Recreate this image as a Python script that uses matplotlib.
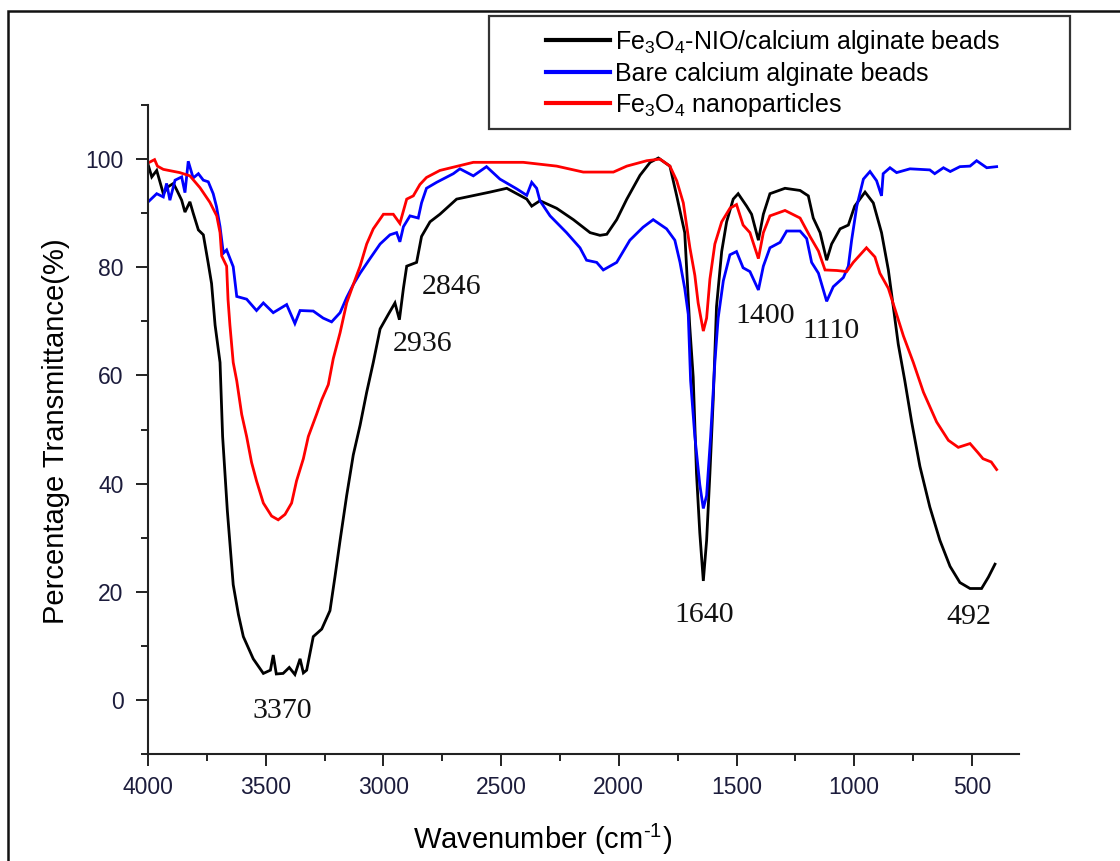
import matplotlib
matplotlib.use("Agg")
import matplotlib.pyplot as plt
from matplotlib.patches import Rectangle
from matplotlib.ticker import MultipleLocator

plt.rcParams["font.family"] = ["Liberation Sans", "DejaVu Sans"]
plt.rcParams["mathtext.fontset"] = "custom"
plt.rcParams["mathtext.rm"] = "Liberation Sans"
plt.rcParams["mathtext.default"] = "regular"

# FTIR spectra: wavenumber (cm^-1) and transmittance (%)
nio_wn = [3999, 3984, 3963, 3935, 3914, 3892, 3878, 3857, 3843, 3822, 3808, 3786,
          3765, 3744, 3730, 3715, 3694, 3683, 3663, 3638, 3616, 3595, 3553, 3510,
          3480, 3468, 3455, 3426, 3400, 3376, 3354, 3340, 3326, 3298, 3262, 3227,
          3206, 3184, 3156, 3128, 3099, 3071, 3043, 3014, 2979, 2951, 2932, 2915,
          2901, 2859, 2838, 2802, 2760, 2689, 2547, 2476, 2391, 2370, 2335, 2264,
          2193, 2122, 2080, 2051, 2009, 1966, 1910, 1867, 1832, 1783, 1754, 1720,
          1699, 1684, 1670, 1656, 1641, 1627, 1613, 1599, 1585, 1563, 1542, 1514,
          1493, 1457, 1436, 1407, 1386, 1358, 1294, 1230, 1195, 1174, 1145, 1117,
          1096, 1060, 1025, 998, 954, 919, 884, 855, 834, 813, 785, 756, 721, 679,
          636, 593, 551, 508, 459, 430, 402]
nio_t = [98.9, 96.7, 97.9, 93.6, 94.9, 95.5, 94.3, 92.4, 90.2, 92.1, 90.0, 86.9,
         86.0, 80.7, 77.0, 69.3, 62.4, 48.7, 35.0, 21.3, 15.8, 11.7, 7.6, 4.9,
         5.5, 8.3, 4.8, 4.9, 6.0, 4.7, 7.6, 5.0, 5.5, 11.7, 13.1, 16.5,
         22.7, 29.5, 37.8, 45.3, 50.8, 56.9, 62.4, 68.6, 71.3, 73.4, 70.3, 76.1,
         80.2, 80.9, 85.7, 88.4, 89.8, 92.6, 93.9, 94.6, 92.6, 91.3, 92.3, 90.9,
         88.8, 86.4, 85.9, 86.1, 88.8, 92.6, 97.0, 99.4, 100.2, 98.7, 93.2, 86.4,
         69.3, 59.7, 41.9, 30.9, 22.0, 29.5, 41.9, 55.5, 72.7, 82.9, 88.4, 92.6,
         93.6, 91.3, 89.8, 85.0, 89.8, 93.6, 94.6, 94.2, 93.2, 89.1, 86.4, 81.3,
         84.3, 87.1, 87.8, 91.3, 93.9, 91.9, 86.4, 79.5, 72.7, 65.8, 59.0, 51.4,
         43.2, 35.7, 29.5, 24.7, 21.7, 20.6, 20.6, 22.7, 25.1]

bare_wn = [3999, 3963, 3935, 3921, 3907, 3885, 3857, 3843, 3829, 3808, 3786, 3765,
           3744, 3723, 3709, 3694, 3680, 3666, 3638, 3623, 3581, 3539, 3510, 3468,
           3411, 3376, 3354, 3298, 3256, 3220, 3184, 3156, 3128, 3099, 3057, 3014,
           2972, 2944, 2930, 2915, 2887, 2852, 2838, 2817, 2774, 2703, 2675, 2618,
           2562, 2505, 2434, 2391, 2370, 2349, 2335, 2292, 2222, 2165, 2137, 2094,
           2066, 2009, 1953, 1897, 1854, 1797, 1762, 1740, 1720, 1705, 1695, 1677,
           1656, 1641, 1627, 1610, 1592, 1578, 1556, 1528, 1500, 1472, 1443, 1407,
           1386, 1358, 1315, 1287, 1230, 1202, 1181, 1152, 1117, 1089, 1046, 1025,
           1011, 989, 961, 933, 905, 884, 877, 848, 820, 763, 679, 658, 621, 592,
           551, 508, 480, 437, 395]
bare_t = [92.1, 93.6, 93.0, 95.5, 92.4, 96.1, 96.7, 93.8, 99.6, 96.5, 97.3, 96.1,
          95.8, 93.6, 91.2, 87.5, 82.6, 83.2, 80.1, 74.6, 74.1, 72.0, 73.4, 71.6,
          73.1, 69.6, 72.0, 71.9, 70.6, 69.9, 71.6, 74.4, 76.8, 78.9, 81.6, 84.3,
          86.0, 86.4, 84.7, 87.5, 89.5, 89.1, 91.9, 94.6, 95.7, 97.3, 98.2, 96.9,
          98.6, 96.3, 94.5, 93.3, 95.7, 94.6, 92.3, 89.5, 86.4, 83.6, 81.3, 80.9,
          79.5, 80.9, 85.0, 87.4, 88.8, 87.1, 85.0, 80.9, 76.1, 71.3, 59.0, 48.7,
          39.8, 35.4, 37.8, 48.7, 62.4, 70.6, 77.5, 82.3, 82.9, 79.9, 79.2, 75.8,
          80.2, 83.6, 84.6, 86.7, 86.7, 85.3, 80.9, 78.9, 73.7, 76.4, 78.1, 80.2,
          85.0, 91.3, 96.3, 97.7, 96.0, 93.2, 97.3, 98.4, 97.5, 98.2, 98.0, 97.3,
          98.4, 97.7, 98.6, 98.7, 99.7, 98.4, 98.6]

fe3o4_wn = [3999, 3972, 3960, 3935, 3865, 3822, 3779, 3737, 3708, 3694, 3687, 3666,
            3660, 3652, 3638, 3623, 3602, 3581, 3560, 3539, 3510, 3475, 3447, 3418,
            3390, 3369, 3340, 3319, 3284, 3262, 3234, 3213, 3184, 3156, 3128, 3099,
            3071, 3043, 3000, 2958, 2930, 2901, 2873, 2845, 2817, 2760, 2618, 2406,
            2264, 2151, 2023, 1966, 1881, 1825, 1783, 1754, 1726, 1698, 1677, 1663,
            1641, 1627, 1613, 1592, 1563, 1528, 1500, 1472, 1443, 1407, 1386, 1358,
            1294, 1230, 1188, 1152, 1124, 1074, 1032, 1004, 948, 912, 891, 855, 820,
            791, 749, 706, 650, 600, 558, 508, 474, 453, 418, 395]
fe3o4_t = [99.3, 99.9, 98.7, 98.1, 97.5, 96.9, 94.7, 92.0, 89.5, 86.4, 82.1, 80.2,
           74.0, 69.3, 62.4, 59.0, 52.8, 48.7, 43.9, 40.5, 36.4, 34.0, 33.3, 34.3,
           36.4, 40.5, 44.6, 48.7, 52.8, 55.5, 58.3, 63.1, 67.9, 73.4, 76.8, 80.2,
           84.3, 87.1, 89.8, 89.8, 88.1, 92.6, 93.2, 95.3, 96.6, 97.9, 99.4, 99.4,
           98.7, 97.6, 97.6, 98.7, 99.7, 100.0, 98.7, 96.0, 91.9, 83.6, 78.5, 73.4,
           68.2, 70.6, 77.8, 84.3, 88.4, 90.9, 91.6, 87.8, 86.4, 81.6, 86.4, 89.5,
           90.5, 89.1, 85.7, 83.0, 79.5, 79.4, 79.2, 80.9, 83.6, 81.9, 78.9, 76.1, 71.3,
           67.3, 62.4, 56.9, 51.4, 48.0, 46.7, 47.4, 45.7, 44.6, 44.0, 42.6]

series_labels = ["Fe$_3$O$_4$-NIO/calcium alginate beads",
                 "Bare calcium alginate beads",
                 "Fe$_3$O$_4$ nanoparticles"]
series_colors = ["#000000", "#0000ff", "#ff0000"]

# annotated band positions (cm^-1) and where their labels sit (x, y in data units)
peaks = [3370, 2936, 2846, 1640, 1400, 1110, 492]
peak_label_xy = [(3431, -2.0), (2832, 65.9), (2709, 76.3), (1638, 15.7),
                 (1379, 70.9), (1099, 68.3), (512, 15.4)]

fig = plt.figure(figsize=(11.2, 8.61), dpi=100)
ax = fig.add_axes([148 / 1120, 1 - 754 / 861, 871 / 1120, 649 / 861])

handles = []
for wn, t, lab, col in zip([nio_wn, bare_wn, fe3o4_wn], [nio_t, bare_t, fe3o4_t],
                           series_labels, series_colors):
    h, = ax.plot(wn, t, color=col, lw=2.0, solid_joinstyle="miter", label=lab)
    handles.append(h)

ax.set_xlim(4000, 300)
ax.set_ylim(-10, 110)
ax.xaxis.set_minor_locator(MultipleLocator(250))
ax.yaxis.set_minor_locator(MultipleLocator(10))
ax.set_xticks([4000, 3500, 3000, 2500, 2000, 1500, 1000, 500])
ax.set_yticks([0, 20, 40, 60, 80, 100])

for s in ["top", "right"]:
    ax.spines[s].set_visible(False)
for s in ["left", "bottom"]:
    ax.spines[s].set_linewidth(1.5)
    ax.spines[s].set_color("#222222")

tick_color = "#1c1c3c"
ax.tick_params(which="major", direction="out", length=8.6, width=1.4,
               color="#222222", labelsize=16.5, labelcolor=tick_color)
ax.tick_params(which="minor", direction="out", length=5.2, width=1.4, color="#222222")
ax.tick_params(axis="x", which="major", pad=7)
ax.tick_params(axis="y", which="major", pad=9)

ax.set_xlabel("Wavenumber (cm$^{\\text{-}1}$)", fontsize=21, va="baseline", ha="center")
ax.xaxis.set_label_coords((543 - 148) / 871, (753 - 848) / 648)
ax.set_ylabel("Percentage Transmittance(%)", fontsize=21, va="baseline", ha="center")
ax.yaxis.set_label_coords((64 - 148) / 871, (753 - 431) / 648)

for p, (lx, ly) in zip(peaks, peak_label_xy):
    ax.text(lx, ly, str(p), fontsize=21.5, family=["Liberation Serif", "DejaVu Serif"],
            ha="center", va="center", color="#111111")

leg = ax.legend(handles=handles, loc="upper left", frameon=False,
                bbox_to_anchor=(546 / 1120, 1 - 28 / 861), bbox_transform=fig.transFigure,
                fontsize=18, handlelength=2.55, handletextpad=0.2, labelspacing=0.22,
                borderaxespad=0, borderpad=0)
for line in leg.get_lines():
    line.set_linewidth(3)

# legend box
fig.patches.append(Rectangle((489 / 1120, 1 - 129 / 861), 581 / 1120, 113 / 861,
                             transform=fig.transFigure, fill=False, lw=1.6,
                             edgecolor="#333333"))
# outer frame
fig.patches.append(Rectangle((8 / 1120, -0.1), 1.2, 1 - 11 / 861 + 0.1,
                             transform=fig.transFigure, fill=False, lw=1.8,
                             edgecolor="#111111"))

fig.savefig("out.png", dpi=100)
